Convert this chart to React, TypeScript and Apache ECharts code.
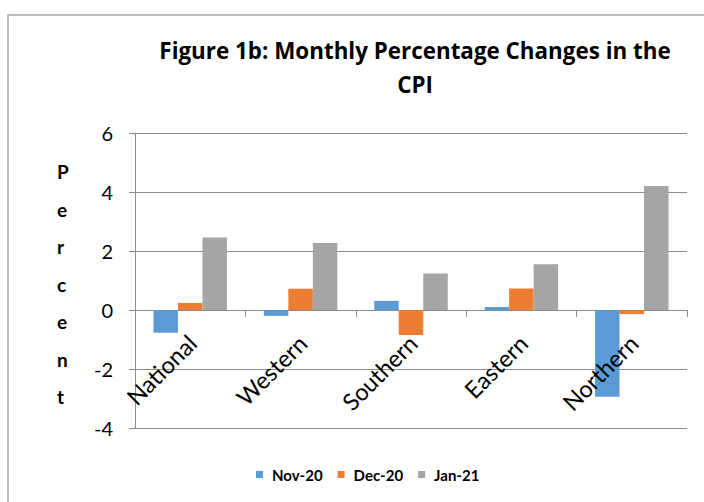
import React, { useEffect, useRef } from "react";
import * as echarts from "echarts";

const categories = ["National", "Western", "Southern", "Eastern", "Northern"];
const nov20 = [-0.77, -0.2, 0.31, 0.1, -2.94];
const dec20 = [0.24, 0.72, -0.85, 0.73, -0.14];
const jan21 = [2.46, 2.27, 1.24, 1.55, 4.2];
const seriesNames = ["Nov-20", "Dec-20", "Jan-21"];
const titleLines = ["Figure 1b: Monthly Percentage Changes in the", "CPI"];
const yAxisTitle = "Percent";

export default function App() {
  const ref = useRef<HTMLDivElement>(null);
  useEffect(() => {
    if (!ref.current) return;
    const chart = echarts.init(ref.current, null, { renderer: "svg" });
    const font = "'Open Sans', Lato, sans-serif";
    const lato = "Lato, 'Open Sans', sans-serif";
    const gridColor = "#8c8c8c";
    chart.setOption({
      animation: false,
      backgroundColor: "#ffffff",
      textStyle: { fontFamily: font },
      title: {
        text: titleLines.join("\n"),
        left: 410,
        top: 28,
        textAlign: "center",
        textStyle: { fontSize: 22.4, fontWeight: "bold", color: "#000", lineHeight: 34, fontFamily: font },
      },
      graphic: [
        {
          type: "rect",
          shape: { x: 8, y: 15, width: 720, height: 520 },
          style: { fill: "none", stroke: "#a6a6a6", lineWidth: 1.5 },
          silent: true,
        },
        {
          type: "text",
          left: 57,
          top: 153,
          style: {
            text: yAxisTitle.split("").join("\n"),
            fontSize: 19,
            fontWeight: "bold",
            fill: "#000",
            lineHeight: 37.5,
            fontFamily: lato,
            align: "center",
          },
        },
      ],
      legend: {
        data: seriesNames.map((n) => ({ name: n })),
        bottom: 15,
        left: 251,
        itemWidth: 7,
        itemHeight: 7,
        itemGap: 15,
        icon: "rect",
        textStyle: { fontSize: 15, fontWeight: "bold", color: "#000", fontFamily: lato, padding: [0, 0, 0, 4] },
      },
      grid: { left: 135, right: 17, top: 133, bottom: 74, containLabel: false },
      xAxis: {
        type: "category",
        data: categories,
        axisLine: { onZero: true, lineStyle: { color: gridColor, width: 1 } },
        axisTick: { show: true, length: 7, lineStyle: { color: gridColor } },
        axisLabel: { show: false },
      },
      yAxis: {
        type: "value",
        min: -4,
        max: 6,
        interval: 2,
        axisLine: { show: true, lineStyle: { color: gridColor, width: 1 } },
        axisTick: { show: true, length: 6, lineStyle: { color: gridColor } },
        axisLabel: { fontSize: 20, color: "#000", margin: 22, fontFamily: lato },
        splitLine: { show: true, lineStyle: { color: gridColor, width: 1 } },
      },
      series: [
        { name: seriesNames[0], type: "bar", data: nov20, barWidth: 24.5, barGap: "0%", itemStyle: { color: "#5B9BD5" } },
        { name: seriesNames[1], type: "bar", data: dec20, barWidth: 24.5, barGap: "0%", itemStyle: { color: "#ED7D31" } },
        { name: seriesNames[2], type: "bar", data: jan21, barWidth: 24.5, barGap: "0%", itemStyle: { color: "#A5A5A5" } },
        {
          name: "labels",
          type: "custom",
          data: categories.map((_c, i) => [i, 0]),
          silent: true,
          z: 10,
          renderItem: (params: any, api: any) => {
            const p = api.coord([api.value(0), api.value(1)]);
            return {
              type: "text",
              x: p[0] + 2,
              y: p[1] + 29,
              rotation: Math.PI / 4,
              style: {
                text: categories[params.dataIndex],
                align: "right",
                verticalAlign: "middle",
                fontSize: 23.5,
                fill: "#000",
                fontFamily: lato,
              },
            };
          },
        },
      ],
    });
    return () => chart.dispose();
  }, []);
  return (
    <div
      ref={ref}
      style={{ position: "absolute", left: 0, top: 0, width: 704, height: 502 }}
    />
  );
}
